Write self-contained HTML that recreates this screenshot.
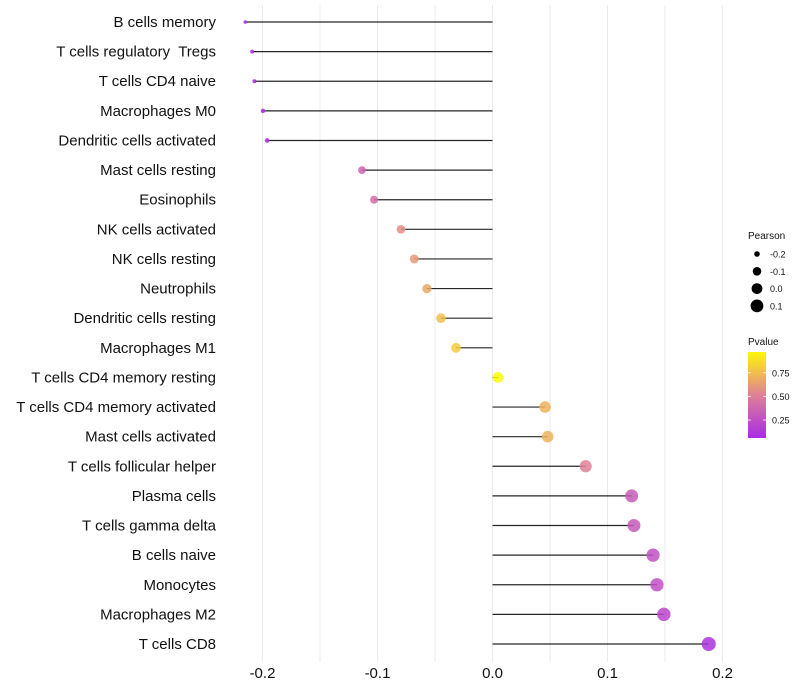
<!DOCTYPE html>
<html><head><meta charset="utf-8"><style>
body{margin:0;background:#fff;}
svg{font-family:"Liberation Sans",sans-serif;display:block;}
text{white-space:pre;}
</style></head><body>
<svg id="chart" width="800" height="700"></svg>
<script>
const categories=["B cells memory","T cells regulatory  Tregs","T cells CD4 naive","Macrophages M0","Dendritic cells activated","Mast cells resting","Eosinophils","NK cells activated","NK cells resting","Neutrophils","Dendritic cells resting","Macrophages M1","T cells CD4 memory resting","T cells CD4 memory activated","Mast cells activated","T cells follicular helper","Plasma cells","T cells gamma delta","B cells naive","Monocytes","Macrophages M2","T cells CD8"];
const pearson=[-0.215,-0.209,-0.207,-0.1996,-0.196,-0.1135,-0.103,-0.0796,-0.068,-0.057,-0.0448,-0.0317,0.0048,0.0457,0.048,0.081,0.121,0.123,0.1396,0.143,0.149,0.188];
const pvalue=[0.05,0.06,0.06,0.07,0.07,0.35,0.4,0.55,0.6,0.65,0.75,0.8,0.98,0.7,0.7,0.5,0.3,0.3,0.25,0.25,0.2,0.1];
const xTicks=[-0.2,-0.1,0.0,0.1,0.2];
const xTickLabels=["-0.2","-0.1","0.0","0.1","0.2"];
const sizeLegend=[-0.2,-0.1,0.0,0.1];
const pLegend=[0.25,0.5,0.75];

const NS="http://www.w3.org/2000/svg";
const svg=document.getElementById('chart');
function el(t,a,p){const e=document.createElementNS(NS,t);for(const k in a)e.setAttribute(k,a[k]);(p||svg).appendChild(e);return e;}
const x=v=>492.5+v*1150;
const yTop=22,yStep=(644-22)/21;
const y=i=>yTop+i*yStep;
function col(p){
  const stops=[[0,[160,32,240]],[0.5,[224,128,150]],[1,[255,255,0]]];
  let a=stops[0],b=stops[1];if(p>0.5){a=stops[1];b=stops[2];}
  const t=(p-a[0])/(b[0]-a[0]);
  const c=a[1].map((v,i)=>Math.round(v+(b[1][i]-v)*t));
  return `rgb(${c[0]},${c[1]},${c[2]})`;
}
const rad=v=>Math.sqrt(Math.max(2.4,28+115*v));

for(let g=-0.2;g<=0.2001;g+=0.05){
  const l=el('line',{x1:x(g),x2:x(g),y1:5,y2:662,stroke:'#ebebeb','stroke-width':1});
  
  
}
xTicks.forEach((v,i)=>{
  const t=el('text',{x:x(v),y:678,'text-anchor':'middle','font-size':15,fill:'#111'});
  t.textContent=xTickLabels[i];
  
  
});
categories.forEach((c,i)=>{
  const t=el('text',{x:216,y:y(i)+5,'text-anchor':'end','font-size':15,fill:'#111'});
  t.textContent=c;
  
  
  const l=el('line',{x1:x(0),x2:x(pearson[i]),y1:y(i),y2:y(i),stroke:'#000','stroke-width':1.2,'stroke-opacity':0.85});
  
  
  const d=el('circle',{cx:x(pearson[i]),cy:y(i),r:rad(pearson[i]),fill:col(pvalue[i]),'fill-opacity':0.85});
  
  
});
const lt=el('text',{x:748,y:239,'font-size':10,fill:'#111'});lt.textContent='Pearson';


const legR=[2.8,4.3,5.4,6.4];
sizeLegend.forEach((v,i)=>{
  const cy=254+i*17.3;
  const c=el('circle',{cx:757,cy:cy,r:legR[i],fill:'#000'});
  
  
  const t=el('text',{x:770,y:cy+3.5,'font-size':9,fill:'#111'});t.textContent=v.toFixed(1);
  
  
});
const pt=el('text',{x:748,y:345,'font-size':10,fill:'#111'});pt.textContent='Pvalue';


const defs=el('defs',{});
const lg=el('linearGradient',{id:'pg',x1:0,y1:1,x2:0,y2:0},defs);
el('stop',{offset:'0',"stop-color":col(0.06)},lg);
el('stop',{offset:'0.5',"stop-color":col(0.5)},lg);
el('stop',{offset:'1',"stop-color":col(0.97)},lg);
const bar=el('rect',{x:748,y:352,width:18,height:86,fill:'url(#pg)'});


const py=p=>438-(p-0.06)/(0.97-0.06)*86;
pLegend.forEach(p=>{
  el('line',{x1:748,x2:751,y1:py(p),y2:py(p),stroke:'#fff','stroke-width':0.8});
  el('line',{x1:763,x2:766,y1:py(p),y2:py(p),stroke:'#fff','stroke-width':0.8});
  const t=el('text',{x:772,y:py(p)+3.5,'font-size':9,fill:'#111'});t.textContent=p.toFixed(2);
  
  
});
</script>
</body></html>
